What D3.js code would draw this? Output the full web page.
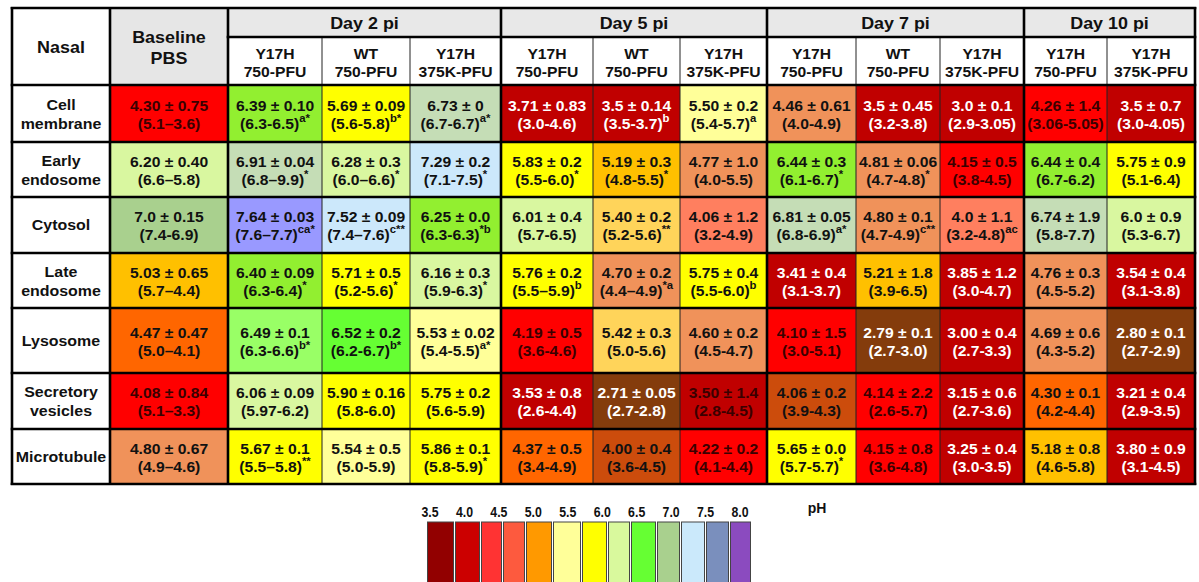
<!DOCTYPE html>
<html><head><meta charset="utf-8">
<script src="https://cdn.jsdelivr.net/npm/d3@7"></script>
<style>
body{margin:0;background:#fff}
text{font-family:"Liberation Sans",Arial,Helvetica,sans-serif;font-weight:bold}
</style>
</head><body>
<svg id="chart" width="1199" height="582"></svg>
<script>
// ---------------- DATA ----------------
const cornerLabel = "Nasal";
const rowLabels = [["Cell","membrane"],["Early","endosome"],["Cytosol"],["Late","endosome"],["Lysosome"],["Secretory","vesicles"],["Microtubule"]];
const columnKeys = ["PBS","D2_Y750","D2_WT750","D2_Y375","D5_Y750","D5_WT750","D5_Y375","D7_Y750","D7_WT750","D7_Y375","D10_Y750","D10_Y375"];
const baselineLabel = ["Baseline","PBS"];
const dayGroups = ["Day 2 pi","Day 5 pi","Day 7 pi","Day 10 pi"];
const dayGroupColumns = [[1,3],[4,6],[7,9],[10,11]];
const subLabels = [null,["Y17H","750-PFU"],["WT","750-PFU"],["Y17H","375K-PFU"],["Y17H","750-PFU"],["WT","750-PFU"],["Y17H","375K-PFU"],["Y17H","750-PFU"],["WT","750-PFU"],["Y17H","375K-PFU"],["Y17H","750-PFU"],["Y17H","375K-PFU"]];

const meanPH = [
 ["4.30","6.39","5.69","6.73","3.71","3.5","5.50","4.46","3.5","3.0","4.26","3.5"],
 ["6.20","6.91","6.28","7.29","5.83","5.19","4.77","6.44","4.81","4.15","6.44","5.75"],
 ["7.0","7.64","7.52","6.25","6.01","5.40","4.06","6.81","4.80","4.0","6.74","6.0"],
 ["5.03","6.40","5.71","6.16","5.76","4.70","5.75","3.41","5.21","3.85","4.76","3.54"],
 ["4.47","6.49","6.52","5.53","4.19","5.42","4.60","4.10","2.79","3.00","4.69","2.80"],
 ["4.08","6.06","5.90","5.75","3.53","2.71","3.50","4.06","4.14","3.15","4.30","3.21"],
 ["4.80","5.67","5.54","5.86","4.37","4.00","4.22","5.65","4.15","3.25","5.18","3.80"]
];
const sdPH = [
 ["0.75","0.10","0.09","0","0.83","0.14","0.2","0.61","0.45","0.1","1.4","0.7"],
 ["0.40","0.04","0.3","0.2","0.2","0.3","1.0","0.3","0.06","0.5","0.4","0.9"],
 ["0.15","0.03","0.09","0.0","0.4","0.2","1.2","0.05","0.1","1.1","1.9","0.9"],
 ["0.65","0.09","0.5","0.3","0.2","0.2","0.4","0.4","1.8","1.2","0.3","0.4"],
 ["0.47","0.1","0.2","0.02","0.5","0.3","0.2","1.5","0.1","0.4","0.6","0.1"],
 ["0.84","0.09","0.16","0.2","0.8","0.05","1.4","0.2","2.2","0.6","0.1","0.4"],
 ["0.67","0.1","0.5","0.1","0.5","0.4","0.2","0.0","0.8","0.4","0.8","0.9"]
];
const rangePH = [
 ["5.1–3.6","6.3-6.5","5.6-5.8","6.7-6.7","3.0-4.6","3.5-3.7","5.4-5.7","4.0-4.9","3.2-3.8","2.9-3.05","3.06-5.05","3.0-4.05"],
 ["6.6–5.8","6.8–9.9","6.0–6.6","7.1-7.5","5.5-6.0","4.8-5.5","4.0-5.5","6.1-6.7","4.7-4.8","3.8-4.5","6.7-6.2","5.1-6.4"],
 ["7.4-6.9","7.6–7.7","7.4–7.6","6.3-6.3","5.7-6.5","5.2-5.6","3.2-4.9","6.8-6.9","4.7-4.9","3.2-4.8","5.8-7.7","5.3-6.7"],
 ["5.7–4.4","6.3-6.4","5.2-5.6","5.9-6.3","5.5–5.9","4.4–4.9","5.5-6.0","3.1-3.7","3.9-6.5","3.0-4.7","4.5-5.2","3.1-3.8"],
 ["5.0–4.1","6.3-6.6","6.2-6.7","5.4-5.5","3.6-4.6","5.0-5.6","4.5-4.7","3.0-5.1","2.7-3.0","2.7-3.3","4.3-5.2","2.7-2.9"],
 ["5.1–3.3","5.97-6.2","5.8-6.0","5.6-5.9","2.6-4.4","2.7-2.8","2.8-4.5","3.9-4.3","2.6-5.7","2.7-3.6","4.2-4.4","2.9-3.5"],
 ["4.9–4.6","5.5–5.8","5.0-5.9","5.8-5.9","3.4-4.9","3.6-4.5","4.1-4.4","5.7-5.7","3.6-4.8","3.0-3.5","4.6-5.8","3.1-4.5"]
];
const significance = [
 ["","a*","b*","a*","","b","a","","","","",""],
 ["","*","*","*","*","*","","*","*","","",""],
 ["","ca*","c**","*b","","**","","a*","c**","ac","",""],
 ["","*","*","*","b","*a","b","","","","",""],
 ["","b*","b*","a*","","","","","","","",""],
 ["","","","","","","","","","","",""],
 ["","**","","*","","","","*","","","",""]
];
// colour class of each cell as printed in the figure
const cellClass = [
 ["rd","lm","ye","ls","dr","dr","py","tn","dr","dr","rd","dr"],
 ["pg","ls","pg","lb","ye","am","tn","lm","tn","rd","lm","ye"],
 ["sg","pw","lb","lm","pg","go","sa","ls","tn","sa","ls","pg"],
 ["am","lm","ye","pg","ye","tn","ye","dr","am","dr","tn","dr"],
 ["or","lg","gr","py","rd","go","tn","rd","br","dr","tn","br"],
 ["rd","pg","ye","ye","dr","br","dk","bo","rd","dr","or","dr"],
 ["tn","ye","py","ye","or","bo","rd","ye","rd","dr","am","dr"]
];
const legendTicks = [3.5,4.0,4.5,5.0,5.5,6.0,6.5,7.0,7.5,8.0];
const legendColors = ["#920000","#cc0000","#ff3333","#fd5a3e","#ff9900","#ffff99","#ffff00","#d9f99d","#66ff33","#a9d08e","#cbe9fb","#7a8fbd","#8b4bbf"];
const legendTitle = "pH";

// ---------------- LAYOUT / SCALES ----------------
const colEdges = [12,110,228,322,410,501,593,680,767,856,940,1024,1107,1195];
const rowEdges = [85,142,197,253,308,373,429,484];
const headTop = 8, headMid = 37, headBottom = 85;
const x = d3.scaleLinear().domain(d3.range(colEdges.length)).range(colEdges);
const y = d3.scaleLinear().domain(d3.range(rowEdges.length)).range(rowEdges);

const classKeys = ["dr","dk","br","rd","or","bo","tn","sa","am","go","py","ye","pg","lm","lg","gr","ls","sg","lb","pw"];
const fill = d3.scaleOrdinal().domain(classKeys).range(
 ["#c00000","#c00000","#843c0c","#ff0000","#ff6600","#cc4c0c","#f0925a","#ff7f5f","#ffc000","#ffd45a","#ffff99","#ffff00","#d9f7a0","#92ef30","#99ff66","#66ff33","#c5ddb6","#a9d08e","#cce8fb","#9999ff"]);
const ink = d3.scaleOrdinal().domain(classKeys).range(
 classKeys.map(k => (k==="dr"||k==="br") ? "#ffffff" : (k==="rd"||k==="dk") ? "#3a0000" : "#111111"));

const svg = d3.select("#chart");
const SX = 1.1;

// header backgrounds
svg.append("rect").attr("x",x(0)).attr("y",headTop).attr("width",x(1)-x(0)).attr("height",headBottom-headTop).attr("fill","#fff");
svg.append("rect").attr("x",x(1)).attr("y",headTop).attr("width",x(2)-x(1)).attr("height",headBottom-headTop).attr("fill","#e6e6e6");
svg.selectAll("rect.day").data(dayGroupColumns).join("rect").attr("class","day")
  .attr("x",d=>x(d[0]+1)).attr("y",headTop).attr("width",d=>x(d[1]+2)-x(d[0]+1)).attr("height",headMid-headTop).attr("fill","#e8e8e8");
svg.selectAll("rect.sub").data(d3.range(1,12)).join("rect").attr("class","sub")
  .attr("x",c=>x(c+1)).attr("y",headMid).attr("width",c=>x(c+2)-x(c+1)).attr("height",headBottom-headMid).attr("fill","#fff");
svg.selectAll("rect.rl").data(rowLabels).join("rect").attr("class","rl")
  .attr("x",x(0)).attr("y",(d,i)=>y(i)).attr("width",x(1)-x(0)).attr("height",(d,i)=>y(i+1)-y(i)).attr("fill","#fff");

// cells
const cells = [];
meanPH.forEach((row,r)=>row.forEach((m,c)=>cells.push({r,c,m,sd:sdPH[r][c],range:rangePH[r][c],sup:significance[r][c],cls:cellClass[r][c]})));
svg.selectAll("rect.cell").data(cells).join("rect").attr("class","cell")
  .attr("x",d=>x(d.c+1)).attr("y",d=>y(d.r)).attr("width",d=>x(d.c+2)-x(d.c+1)).attr("height",d=>y(d.r+1)-y(d.r))
  .attr("fill",d=>fill(d.cls));

// thin grid lines (between sub columns)
const thinCols = [3,4,6,7,9,10,12];
svg.selectAll("line.thin").data(thinCols).join("line").attr("class","thin")
  .attr("x1",i=>x(i)).attr("x2",i=>x(i)).attr("y1",headMid).attr("y2",y(7))
  .attr("stroke","#222").attr("stroke-width",1);
// thick lines
const thickCols = [0,1,2,5,8,11,13];
svg.selectAll("line.vk").data(thickCols).join("line").attr("class","vk")
  .attr("x1",i=>x(i)).attr("x2",i=>x(i)).attr("y1",headTop-1).attr("y2",y(7)+1)
  .attr("stroke","#000").attr("stroke-width",2.6);
const hLines = [{y:headTop,a:0},{y:headMid,a:2},{y:headBottom,a:0}].concat(d3.range(1,8).map(i=>({y:y(i),a:0})));
svg.selectAll("line.hk").data(hLines).join("line").attr("class","hk")
  .attr("x1",d=>x(d.a)-1.3).attr("x2",x(13)+1.3).attr("y1",d=>d.y).attr("y2",d=>d.y)
  .attr("stroke","#000").attr("stroke-width",2.6);

function label(g, cx, yy, str, size, sx, color){
  return g.append("text").attr("transform",`translate(${cx},${yy}) scale(${sx},1)`)
    .attr("text-anchor","middle").attr("font-size",size).attr("fill",color||"#111").text(str);
}
label(svg,(x(0)+x(1))/2,53,cornerLabel,16,1.12);
label(svg,(x(1)+x(2))/2,43,baselineLabel[0],16,1.12);
label(svg,(x(1)+x(2))/2,64,baselineLabel[1],16,1.12);
dayGroups.forEach((g,i)=>{
  const [a,b]=dayGroupColumns[i];
  label(svg,(x(a+1)+x(b+2))/2,29,g,16,1.12);
});
subLabels.forEach((s,c)=>{
  if(!s) return;
  label(svg,(x(c+1)+x(c+2))/2,59,s[0],14,1.12);
  label(svg,(x(c+1)+x(c+2))/2,77,s[1],14,1.12);
});
rowLabels.forEach((lines,r)=>{
  const cy=(y(r)+y(r+1))/2;
  if(lines.length===2){
    label(svg,(x(0)+x(1))/2,cy-4,lines[0],14.5,1.1);
    label(svg,(x(0)+x(1))/2,cy+15,lines[1],14.5,1.1);
  } else {
    label(svg,(x(0)+x(1))/2,cy+5,lines[0],14.5,1.1);
  }
});
cells.forEach(d=>{
  const cx=(x(d.c+1)+x(d.c+2))/2, cy=(y(d.r)+y(d.r+1))/2;
  const col=ink(d.cls);
  label(svg,cx,cy-3,`${d.m} ± ${d.sd}`,14.5,1.08,col);
  const t=label(svg,cx,cy+15,"",14.5,1.08,col);
  t.append("tspan").text(`(${d.range})`);
  if(d.sup){ t.append("tspan").attr("font-size",10.5).attr("dy",-7).text(d.sup); }
});

// legend
const lx = d3.scaleLinear().domain(d3.range(14)).range([427,455,481,503,526,553,582,608,631,657,681,706,730,752]);
const tickX = d3.scaleLinear().domain([3.5,8.0]).range([430,740]);
svg.selectAll("rect.leg").data(legendColors).join("rect").attr("class","leg")
  .attr("x",(d,i)=>lx(i)+0.5).attr("y",522).attr("width",(d,i)=>lx(i+1)-lx(i)-2).attr("height",80)
  .attr("fill",d=>d).attr("stroke","#444").attr("stroke-width",1);
legendTicks.forEach(v=>label(svg,tickX(v),517,v.toFixed(1),14,0.88,"#111"));
label(svg,817,513,legendTitle,14,1,"#111");
</script>
</body></html>
